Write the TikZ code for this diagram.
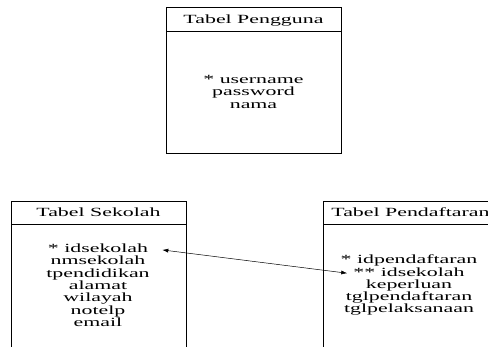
\documentclass[tikz,border=0pt]{standalone}
\usepackage{fontspec}
\setmainfont{Liberation Serif}[FakeStretch=1.75]
\usetikzlibrary{arrows.meta}
\begin{document}
\begin{tikzpicture}[x=1pt,y=-1pt,
  tbox/.style={draw=black, line width=0.8pt, inner sep=0pt, anchor=north west, minimum width=175pt},
  sep/.style={draw=black, line width=0.8pt},
  ttext/.style={font=\fontsize{12.5}{12.3}\selectfont, inner sep=0pt, anchor=base},
  link/.style={{Latex[length=6pt,width=4pt]}-{Latex[length=6pt,width=4pt]}, line width=0.5pt}]
\useasboundingbox (0,0) rectangle (488,347);
\clip (0,0) rectangle (488,347);
% Tabel Pengguna
\node[tbox, minimum height=146pt] (pengguna) at (166,7) {};
\draw[sep] (pengguna.west |- 0,31) -- (pengguna.east |- 0,31);
\node[ttext] (hpeng) at (253.5,23.3) {Tabel Pengguna};
\node[ttext] (p1) at (253.5,83.3) {* username};
\node[ttext] (p2) at (253.5,95.8) {password};
\node[ttext] (p3) at (253.5,108.3) {nama};
% Tabel Sekolah
\node[tbox, minimum height=148pt] (sekolah) at (11,200.7) {};
\draw[sep] (sekolah.west |- 0,224.7) -- (sekolah.east |- 0,224.7);
\node[ttext] (hsek) at (98.5,217) {Tabel Sekolah};
\foreach \t [count=\i from 0] in {* idsekolah, nmsekolah, tpendidikan, alamat, wilayah, notelp, email}
  \node[ttext] (s\i) at (98,252.7+12.3*\i) {\t};
% Tabel Pendaftaran
\node[tbox, minimum height=148pt] (daftar) at (323,200.7) {};
\draw[sep] (daftar.west |- 0,224.7) -- (daftar.east |- 0,224.7);
\node[ttext] (hdaf) at (410.5,217) {Tabel Pendaftaran};
\foreach \t [count=\i from 0] in {* idpendaftaran, ** idsekolah, keperluan, tglpendaftaran, tglpelaksanaan}
  \node[ttext] (d\i) at (409,264+12.2*\i) {\t};
% relation
\draw[link] ([xshift=14pt,yshift=-1.5pt]s0.east) -- ([xshift=-6pt,yshift=-1.3pt]d1.west);
\end{tikzpicture}
\end{document}
